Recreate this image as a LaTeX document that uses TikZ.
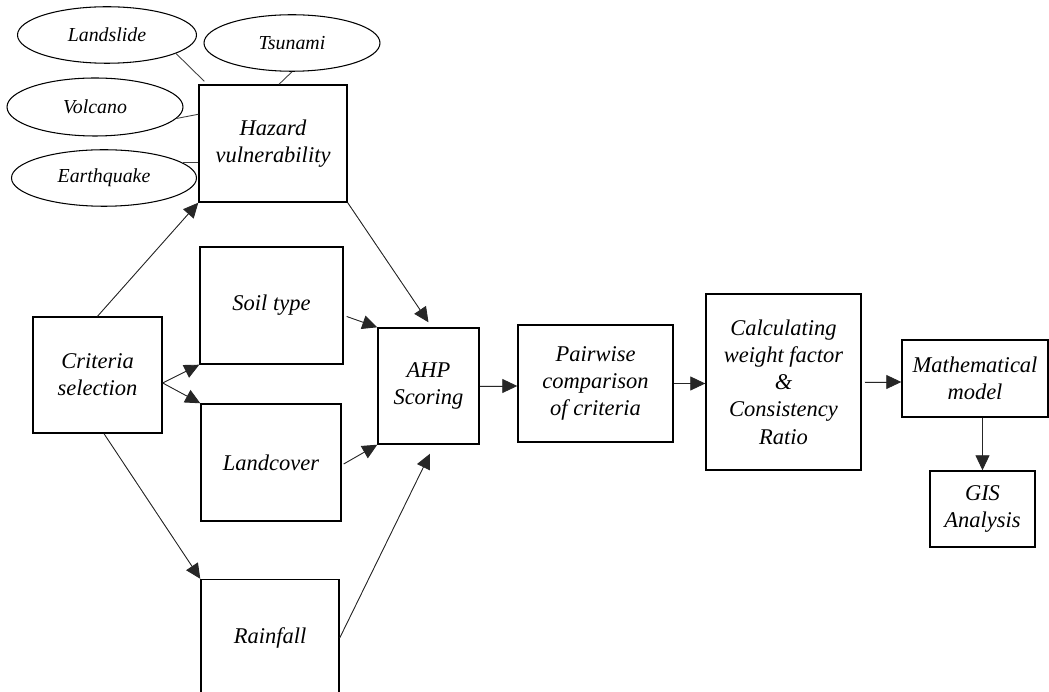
\documentclass[tikz,border=0pt]{standalone}
\usepackage{fontspec}
\setmainfont{Liberation Serif}
\usetikzlibrary{arrows.meta,positioning,calc,shapes.geometric}
\tikzset{
  flowarr/.style={-{Triangle[length=3.0mm, width=2.8mm]}, line width=0.5pt, draw=black!85, fill=black},
  flowlink/.style={line width=0.5pt, draw=black!75},
  flowbox/.style={draw, line width=0.8pt, align=center, inner sep=2pt},
  flowtext/.style={font=\itshape\fontsize{12.8}{15.5}\selectfont},
}

\begin{document}
\begin{tikzpicture}[
  x=1mm, y=-1mm,
  hazardell/.style={draw, line width=0.6pt, ellipse, inner sep=0pt, minimum width=35.6mm, minimum height=11.3mm, font=\itshape\fontsize{11.3}{13}\selectfont},
  stepbox/.style={flowbox, flowtext, minimum width=28.4mm, minimum height=23.4mm},
]
  \useasboundingbox (0,0) rectangle (209.8,138.4);

  % hazard types
  \node[hazardell, minimum width=35.8mm] (landslide) at (21.4,7.0) {Landslide};
  \node[hazardell, minimum width=35.2mm] (tsunami) at (58.4,8.6) {Tsunami};
  \node[hazardell, minimum width=35.2mm, minimum height=11.6mm] (volcano) at (19.0,21.4) {Volcano};
  \node[hazardell, minimum width=37.0mm] (earthquake) at (20.8,35.6) {Earthquake};

  % criteria
  \node[stepbox, minimum width=29.6mm] (hazard) at (54.6,28.7) {Hazard\\vulnerability};
  \node[stepbox, minimum width=25.8mm, minimum height=23.2mm] (crit) at (19.5,75.0) {Criteria\\selection};
  \node[stepbox, minimum width=28.6mm] (soil) at (54.3,61.1) {Soil type};
  \node[stepbox, minimum width=28.0mm] (landcover) at (54.2,92.5) {Landcover};
  \node[stepbox, minimum width=27.6mm] (rainfall) at (54.0,127.6) {Rainfall};

  % processing chain
  \node[stepbox, minimum width=20.2mm, minimum height=23.2mm] (ahp) at (85.7,77.2) {AHP\\Scoring};
  \node[stepbox, minimum width=31.0mm] (pairwise) at (119.1,76.7) {Pairwise\\comparison\\of criteria};
  \node[stepbox, minimum width=31.0mm, minimum height=35.2mm] (calc) at (156.7,76.4) {Calculating\\weight factor\\\&\\Consistency\\Ratio};
  \node[stepbox, minimum width=29.2mm, minimum height=15.4mm] (math) at (195.0,75.7) {Mathematical\\model};
  \node[stepbox, minimum width=21.0mm, minimum height=15.2mm] (gis) at (196.5,101.8) {GIS\\Analysis};

  \draw[flowlink] (landslide.-15) -- ($(hazard.north west)+(1.2,-0.6)$);
  \draw[flowlink] (tsunami.south) -- ($(hazard.north)+(1.2,0)$);
  \draw[flowlink] (volcano.-8) -- ($(hazard.north west)+(0,6)$);
  \draw[flowlink] (earthquake.11) -- (earthquake.11 -| hazard.west);

  \coordinate (cfork) at ($(crit.east)+(0,1.6)$);
  \draw[flowarr] (crit.north) -- (hazard.south west);
  \draw[flowarr] (cfork) -- (soil.south west);
  \draw[flowarr] (cfork) -- (landcover.north west);
  \draw[flowarr] ($(crit.south)+(1.3,0)$) -- (rainfall.north west);

  \draw[flowarr] (hazard.south east) -- ($(ahp.north)+(0,-1)$);
  \draw[flowarr] ($(soil.east)+(0.6,2.2)$) -- (ahp.north west);
  \draw[flowarr] ($(landcover.east)+(0.4,0.3)$) -- (ahp.south west);
  \draw[flowarr] (rainfall.east) -- ($(ahp.south)+(0.3,1.8)$);

  \draw[flowarr] (ahp.east) -- (ahp.east -| pairwise.west);
  \draw[flowarr] (pairwise.east) -- (pairwise.east -| calc.west);
  \draw[flowarr, shorten <=0.6mm] (calc.east) -- (calc.east -| math.west);
  \draw[flowarr] (gis.north |- math.south) -- (gis.north);
\end{tikzpicture}
\end{document}
